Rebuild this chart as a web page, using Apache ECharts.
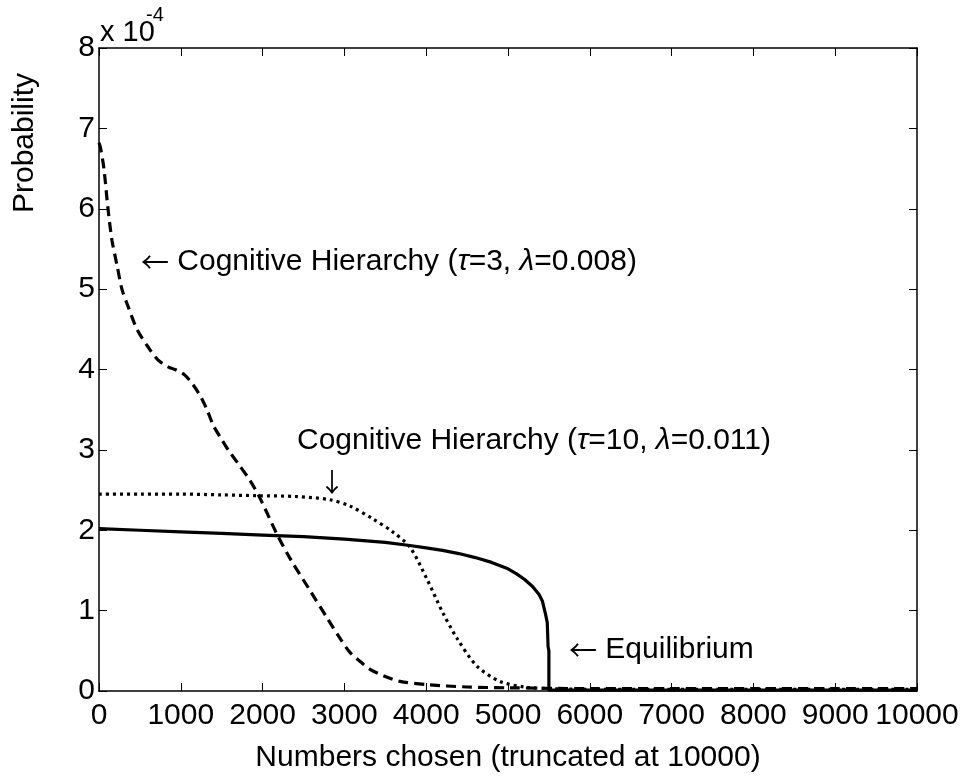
<!DOCTYPE html>
<html>
<head>
<meta charset="utf-8">
<script src="https://cdn.jsdelivr.net/npm/echarts@6/dist/echarts.min.js"></script>
<style>html,body{margin:0;padding:0;background:#fff;}#c{width:974px;height:778px;}</style>
</head>
<body>
<div id="c"></div>
<script>
// Values in units of 1e-4
const xTicks = [0,1000,2000,3000,4000,5000,6000,7000,8000,9000,10000];
const yTicks = [0,1,2,3,4,5,6,7,8];

const eqX = [0,500,1000,1500,2000,2500,3000,3500,3800,4000,4200,4400,4600,4800,5000,5100,5200,5300,5380,5420,5460,5480,5490,5500,5500,6000,7000,8000,9000,10000];
const eqY = [2.02,2.00,1.98,1.96,1.94,1.92,1.89,1.85,1.81,1.78,1.75,1.71,1.66,1.60,1.52,1.46,1.39,1.30,1.20,1.12,0.95,0.85,0.55,0.50,0.01,0.01,0.01,0.01,0.01,0.01];

const ch3X = [0,20,60,110,160,220,280,350,465,600,720,850,930,1050,1150,1250,1320,1400,1500,1580,1700,1846,1968,2176,2335,2580,2800,2950,3068,3200,3313,3500,3680,4010,4500,5000,6000,7000,8000,9000,10000];
const ch3Y = [6.82,6.75,6.50,6.00,5.60,5.30,5.00,4.80,4.50,4.28,4.12,4.03,4.00,3.93,3.81,3.65,3.50,3.30,3.13,3.00,2.83,2.62,2.40,1.95,1.65,1.25,0.89,0.65,0.48,0.36,0.27,0.18,0.12,0.08,0.05,0.04,0.03,0.03,0.03,0.03,0.03];

const ch10X = [0,500,1000,1500,1930,2400,2820,3070,3350,3590,3800,4010,4200,4380,4620,4900,5200,5500,6000,7000,8000,9000,10000];
const ch10Y = [2.45,2.45,2.45,2.44,2.43,2.42,2.38,2.30,2.14,1.98,1.79,1.39,0.98,0.65,0.31,0.12,0.05,0.03,0.02,0.02,0.02,0.02,0.02];

function pairs(xs, ys){ return xs.map((x,i)=>[x, ys[i]]); }

const FONT = 'Liberation Sans, Arial, sans-serif';
const AFONT = '"Noto Sans CJK SC", "DejaVu Sans", sans-serif';
const FS = 30;

const chart = echarts.init(document.getElementById('c'), null, {renderer:'canvas'});
const axisCommon = {
  type:'value',
  axisLine:{show:true, onZero:false, lineStyle:{color:'#000', width:1.5}},
  axisTick:{show:true, inside:true, length:8, lineStyle:{color:'#000', width:1}},
  splitLine:{show:false}
};
const italicRich = {
  a:{fontSize:FS, fontFamily:FONT, fill:'#000'},
  i:{fontSize:FS, fontFamily:FONT, fontStyle:'italic', fill:'#000'},
  r:{fontSize:28, fontFamily:AFONT, fill:'#000'}
};
chart.setOption({
  animation:false,
  backgroundColor:'#fff',
  grid:{left:99, right:57, top:48, bottom:86, containLabel:false},
  xAxis:[
    Object.assign({}, axisCommon, {min:0, max:10000, interval:1000, position:'bottom',
      axisLabel:{color:'#000', fontFamily:FONT, fontSize:FS, margin:10, formatter:v=>String(v)},
      name:'Numbers chosen (truncated at 10000)', nameLocation:'middle', nameGap:52,
      nameTextStyle:{color:'#000', fontFamily:FONT, fontSize:FS}}),
    Object.assign({}, axisCommon, {min:0, max:10000, interval:1000, position:'top', axisLabel:{show:false}})
  ],
  yAxis:[
    Object.assign({}, axisCommon, {min:0, max:8, interval:1, position:'left',
      axisLabel:{color:'#000', fontFamily:FONT, fontSize:FS, margin:4}}),
    Object.assign({}, axisCommon, {min:0, max:8, interval:1, position:'right', axisLabel:{show:false}})
  ],
  series:[
    {type:'line', name:'Equilibrium', data:pairs(eqX, eqY), showSymbol:false, symbol:'none',
      lineStyle:{color:'#000', width:3.2, type:'solid'}, z:3},
    {type:'line', name:'CH tau=3', data:pairs(ch3X, ch3Y), showSymbol:false, symbol:'none', smooth:0.3,
      lineStyle:{color:'#000', width:3.2, type:[10,6]}, z:2},
    {type:'line', name:'CH tau=10', data:pairs(ch10X, ch10Y), showSymbol:false, symbol:'none', smooth:0.3,
      lineStyle:{color:'#000', width:3.2, type:[3,4]}, z:2}
  ],
  graphic:[
    {type:'text', x:25, y:143, rotation:Math.PI/2,
      style:{text:'Probability', fill:'#000', font:FS+'px '+FONT, align:'center', verticalAlign:'middle'}},
    {type:'text', x:100, y:33,
      style:{text:'x 10', fill:'#000', font:'29px '+FONT, align:'left', verticalAlign:'middle'}},
    {type:'text', x:146, y:15,
      style:{text:'-4', fill:'#000', font:'20px '+FONT, align:'left', verticalAlign:'middle'}},
    {type:'text', x:141, y:262,
      style:{text:'{r|\u2190}{a| Cognitive Hierarchy (}{i|\u03c4}{a|=3, }{i|\u03bb}{a|=0.008)}', align:'left', verticalAlign:'middle',
        rich:italicRich}},
    {type:'text', x:297, y:441,
      style:{text:'{a|Cognitive Hierarchy (}{i|\u03c4}{a|=10, }{i|\u03bb}{a|=0.011)}', align:'left', verticalAlign:'middle',
        rich:italicRich}},
    {type:'text', x:332, y:482,
      style:{text:'\u2193', fill:'#000', font:'26px '+AFONT, align:'center', verticalAlign:'middle'}},
    {type:'text', x:569, y:650,
      style:{text:'{r|\u2190}{a| Equilibrium}', align:'left', verticalAlign:'middle', rich:italicRich}}
  ]
});
</script>
</body>
</html>
